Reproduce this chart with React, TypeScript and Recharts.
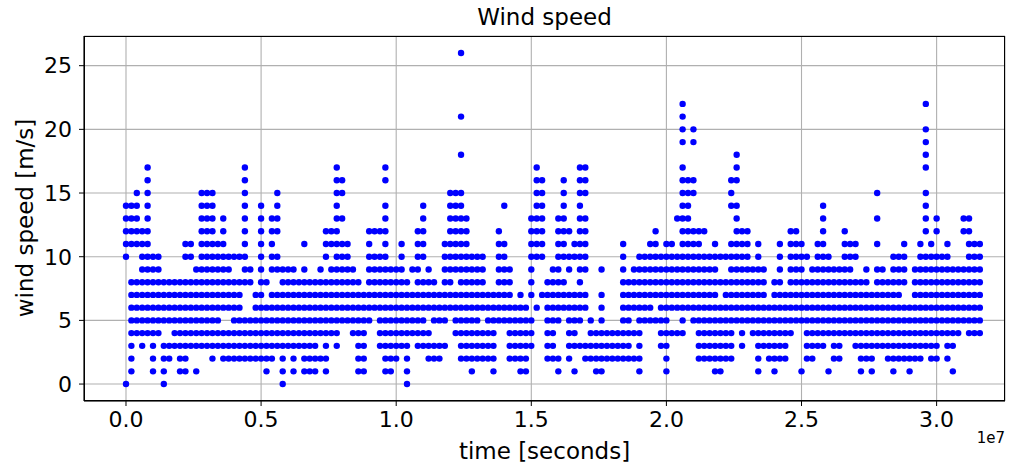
import React from 'react';
import { ScatterChart, Scatter, XAxis, YAxis, CartesianGrid } from 'recharts';

// sample times in units of 1e5 seconds
const sampleTimes = [
  0, 2, 4, 6, 8, 10, 12, 14, 16, 18, 20, 22, 24, 26, 28, 30, 32, 34, 36, 38,
  40, 42, 44, 46, 48, 50, 52, 54, 56, 58, 60, 62, 64, 66, 68, 70, 72, 74, 76, 78,
  80, 82, 84, 86, 88, 90, 92, 94, 96, 98, 100, 102, 104, 106, 108, 110, 112, 114, 116, 118,
  120, 122, 124, 126, 128, 130, 132, 134, 136, 138, 140, 142, 144, 146, 148, 150, 152, 154, 156, 158,
  160, 162, 164, 166, 168, 170, 172, 174, 176, 178, 180, 182, 184, 186, 188, 190, 192, 194, 196, 198,
  200, 202, 204, 206, 208, 210, 212, 214, 216, 218, 220, 222, 224, 226, 228, 230, 232, 234, 236, 238,
  240, 242, 244, 246, 248, 250, 252, 254, 256, 258, 260, 262, 264, 266, 268, 270, 272, 274, 276, 278,
  280, 282, 284, 286, 288, 290, 292, 294, 296, 298, 300, 302, 304, 306, 308, 310, 312, 314, 316,
];

// wind speeds observed at each sample time (one char per value: 0-9, a=10 ... q=26)
const speedColumns = [
  '0abcde', '12345678bcde', '45678bcdef', '3456789abc', '456789abcdefgh', '123456789a', '456789a', '01235678', '235678', '345678',
  '12345678', '12345678ab', '345678ab', '13456789', '3456789abcdef', '3456789abcdef', '23456789abcdef', '3456789ab', '2346789abcd', '2346789a',
  '2345678a', '2345678a', '234589abcdefgh', '234589', '234567', '23456789abcde', '1234568', '2345679abcd', '345679acdef', '0123456789',
  '3456789', '123456789', '345678', '123456789b', '12345678', '12345678', '2456789', '12345678abc', '456789bc', '3456789abcdefgh',
  '56789abdfg', '56789ab', '456789', '12345678', '1234567', '56789abc', '6789ac', '3456789ac', '123456789abcdegh', '123456789',
  '23456789', '3456789ab', '012345678', '45679', '3456789abc', '345678abcde', '2346789', '235678', '23567', '356789ab',
  '6789abcdef', '45679abcdef', '23456789abcdefilq', '23456789abcd', '123456789a', '23456789a', '2346789a', '234567', '1234567', '56789abc',
  '56789abe', '23456789', '23456', '1234567', '123456', '345789abcd', '6abcdefgh', '7abcdefg', '2345678', '23456789',
  '1256789abcd', '678abcdefg', '2345679ac', '134567ab', '356789abcdefgh', '23679abcdfgh', '2345', '1234', '12345679', '234',
  '234', '234', '23456789ab', '2345678', '246789', '123456789a', '56789a', '56789ab', '5789abc', '3456789a',
  '123456789ab', '46789ab', '46789ad', '456789abcdefghjklm', '6789abcdefg', '56789abcfgjk', '23456789abc', '23456789ac', '23456789a', '123456789ab',
  '1234568a', '2345678a', '23456789abefg', '56789abcdeghi', '3456789abc', '56789abc', '456789', '123456789ab', '3456789', '23456',
  '12345678', '23456789ab', '234567', '456789abc', '56789abc', '156789ab', '2345678a', '23456789', '3456789ab', '3456789abcde',
  '1456789a', '23456789', '23456789', '456789abc', '456789ab', '345678ab', '12345678', '23456789', '1234567', '3456789bdf',
  '3456789', '2345678', '123456789a', '23456789a', '2345689ab', '123456', '23456789', '23456789ab', '3456789acdefhijkm', '23456789ab',
  '23456789acd', '456789a', '23456789ab', '13456789', '456789', '56789cd', '456789abcd', '456789ab', '456789ab',
];

const xTicks = [0, 5e6, 1e7, 1.5e7, 2e7, 2.5e7, 3e7];
const yTicks = [0, 5, 10, 15, 20, 25];
const SPEED_CODE = '0123456789abcdefghijklmnopq';

const points: { t: number; v: number }[] = [];
sampleTimes.forEach((t, i) => {
  const col = speedColumns[i] || '';
  for (const ch of col) {
    points.push({ t: t * 1e5, v: SPEED_CODE.indexOf(ch) });
  }
});

const FONT = '"DejaVu Sans", sans-serif';

const Dot = (p: any) => <circle cx={p.cx} cy={p.cy} r={3.2} fill="#0000ff" />;

export default function App() {
  return (
    <div style={{ position: 'absolute', left: 0, top: 0, width: 1021, height: 468, background: '#fff', fontFamily: FONT }}>
      <ScatterChart width={1021} height={468} margin={{ top: 36, right: 16, bottom: 0, left: 0 }}>
        <CartesianGrid stroke="#b0b0b0" strokeWidth={1.1} />
        <XAxis
          type="number"
          dataKey="t"
          domain={[-1.554e6, 3.2531e7]}
          ticks={xTicks}
          tickFormatter={(v: number) => (v / 1e7).toFixed(1)}
          height={67}
          tickSize={5}
          tickMargin={5}
          stroke="#000"
          tick={{ fill: '#000', fontSize: 22, fontFamily: FONT }}
          allowDataOverflow
        />
        <YAxis
          type="number"
          dataKey="v"
          domain={[-1.33, 27.33]}
          ticks={yTicks}
          width={84}
          tickSize={5}
          tickMargin={7}
          stroke="#000"
          tick={{ fill: '#000', fontSize: 22, fontFamily: FONT }}
          allowDataOverflow
        />
        <Scatter data={points} shape={Dot} isAnimationActive={false} />
      </ScatterChart>
      <div style={{ position: 'absolute', left: 84, top: 36, width: 921, height: 365, border: '1px solid #000', boxSizing: 'border-box', pointerEvents: 'none' }} />
      <div style={{ position: 'absolute', left: 84, width: 921, top: 2, textAlign: 'center', fontSize: 23, color: '#000', lineHeight: '30px' }}>Wind speed</div>
      <div style={{ position: 'absolute', left: 84, width: 921, top: 436, textAlign: 'center', fontSize: 23, color: '#000', lineHeight: '30px' }}>time [seconds]</div>
      <div style={{ position: 'absolute', right: 16, top: 429, fontSize: 15, color: '#000', lineHeight: '18px' }}>1e7</div>
      <div style={{ position: 'absolute', left: 25, top: 218, transform: 'translate(-50%, -50%) rotate(-90deg)', fontSize: 23, color: '#000', whiteSpace: 'nowrap', lineHeight: '30px' }}>wind speed [m/s]</div>
    </div>
  );
}
